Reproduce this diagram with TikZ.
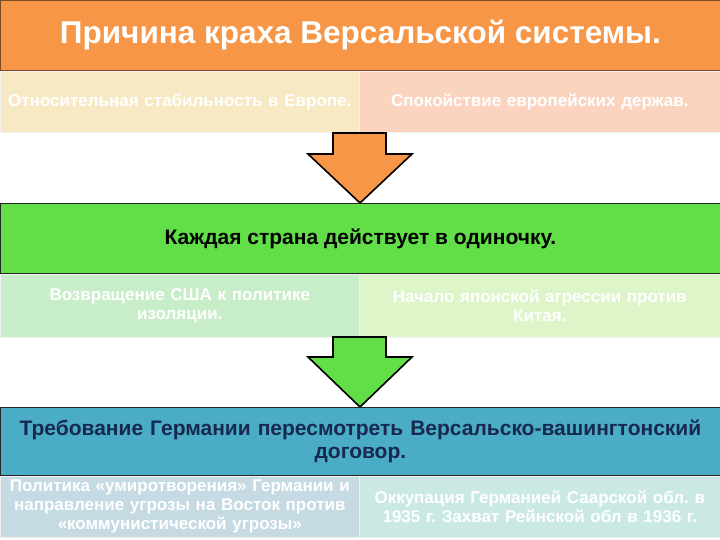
\documentclass[tikz,border=0pt]{standalone}
\usepackage{fontspec}
\setmainfont{Liberation Sans}
\frenchspacing
\definecolor{orangeM}{HTML}{F79646}
\definecolor{greenM}{HTML}{62DF48}
\definecolor{blueM}{HTML}{4BACC6}
\definecolor{subA}{HTML}{F6E9C4}
\definecolor{subB}{HTML}{FAD4BF}
\definecolor{subC}{HTML}{C8EDC9}
\definecolor{subD}{HTML}{DDF5C9}
\definecolor{subE}{HTML}{C6DAE3}
\definecolor{subF}{HTML}{CAE9E4}
\definecolor{navy}{HTML}{17294F}
\tikzset{
  mainbox/.style={draw=black!85, line width=0.8pt, rectangle, inner sep=0pt, anchor=north west,
    minimum width=720pt, align=center, font=\bfseries},
  subbox/.style={draw=white!90!gray, line width=0.6pt, rectangle, inner sep=0pt, anchor=north west,
    minimum width=359pt, align=center, text=white, text width=356pt,
    font=\fontsize{17}{19}\selectfont\bfseries},
  blockarrow/.style={draw=black, line width=1.6pt, line join=miter}
}
\begin{document}
\begin{tikzpicture}[x=1pt,y=-1pt]
\useasboundingbox[fill=white] (0,0) rectangle (720,540);
% top
\node[mainbox, fill=orangeM, draw=orangeM!50!black, minimum height=70pt, text=white,
  font=\fontsize{31.5}{36}\selectfont\bfseries] (top) at (0,0) {Причина краха Версальской системы.};
\node[subbox, fill=subA, minimum height=61pt] (s1) at (0,71) {Относительная стабильность в Европе.};
\node[subbox, fill=subB, minimum width=361pt, minimum height=61pt] (s2) at (359,71) {Спокойствие европейских держав.};
% orange arrow
\draw[blockarrow, fill=orangeM] (333,133) -- (386,133) -- (386,154) -- (412,154) -- (360,203) -- (308,154) -- (333,154) -- cycle;
% green
\node[mainbox, fill=greenM, minimum height=70pt, text=black,
  font=\fontsize{21}{24}\selectfont\bfseries] (mid) at (0,203) {Каждая страна действует в одиночку.};
\node[subbox, fill=subC, minimum height=63pt] (s3) at (0,274) {Возвращение США к политике\\изоляции.};
\node[subbox, fill=subD, minimum width=361pt, minimum height=63pt] (s4) at (359,274) {Начало японской агрессии против\\Китая.};
% green arrow
\draw[blockarrow, fill=greenM] (333,337) -- (386,337) -- (386,357) -- (412,357) -- (360,407) -- (308,357) -- (333,357) -- cycle;
% blue
\node[mainbox, fill=blueM, minimum height=68pt, text=navy, text width=716pt,
  font=\fontsize{21}{23}\selectfont\bfseries] (bot) at (0,407) {Требование Германии пересмотреть Версальско-вашингтонский\\договор.};
\node[subbox, fill=subE, minimum height=61pt] (s5) at (0,476) {Политика «умиротворения» Германии и\\направление угрозы на Восток против\\«коммунистической угрозы»};
\node[subbox, fill=subF, minimum width=361pt, minimum height=61pt] (s6) at (359,476) {Оккупация Германией Саарской обл. в\\1935 г. Захват Рейнской обл в 1936 г.};
\end{tikzpicture}
\end{document}
